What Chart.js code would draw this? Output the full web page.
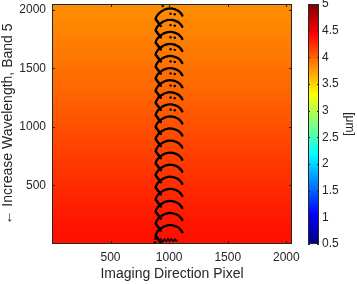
<!DOCTYPE html>
<html>
<head>
<meta charset="utf-8">
<script src="https://cdn.jsdelivr.net/npm/chart.js@4.4.0/dist/chart.umd.min.js"></script>
<style>
html,body{margin:0;padding:0;background:#fff}
#wrap{width:357px;height:284px}
</style>
</head>
<body>
<div id="wrap"><canvas id="c" width="357" height="284"></canvas></div>
<script>
// image rows (band 5), value in um, roughly constant along x
const rowCenters = [64,192,320,448,576,704,832,960,1088,1216,1344,1472,1600,1728,1856,1984];
const rowValues  = [4.37,4.34,4.30,4.26,4.22,4.18,4.14,4.10,4.06,4.02,3.98,3.95,3.91,3.88,3.85,3.82];

const xTicks = [500,1000,1500,2000];
const yTicks = [500,1000,1500,2000];
const cbTicks = [0.5,1,1.5,2,2.5,3,3.5,4,4.5,5];

// repeated marker pattern: one arc unit (x, row offset) and where it repeats
const arcUnit = [[885,0],[889,13],[895,25],[902,35],[910,45],[920,54],[930,62],[941,69],[952,76],[963,81],[975,85],[987,88],[1000,90],[1012,90],[1025,89],[1038,86],[1050,83],[1061,78],[1072,73],[1082,67],[1090,60],[1097,52],[1103,45],[1108,37],[1112,30],
                 [889,-6],[893,-12],[898,-18],[902,-24],[907,-30],[911,-36],[916,-42],[920,-48],[925,-54],[929,-60]];
const innerDots = [[1012,45],[1048,40]];
const unitRows = [72,175,278,381,484,587,690,793,896,999,1102,1205,1308,1411,1514,1617,1720,1823,1920];
const extraMarks = [[930,40],[945,25],[960,38],[975,28],[990,42],[1005,30],[1020,40],[1035,28],[1050,38],[1062,30],[880,15],[882,45],[945,2030]];

const ink = '#262626';
Chart.defaults.font.family = "'Liberation Sans', Arial, sans-serif";
Chart.defaults.color = ink;

function jet(t){
    const c = v => Math.round(255*Math.max(0, Math.min(1, v)));
    return 'rgb(' + c(Math.min(4*t-1.5, -4*t+4.5)) + ',' + c(Math.min(4*t-0.5, -4*t+3.5)) + ',' + c(Math.min(4*t+0.5, -4*t+2.5)) + ')';
}
const norm = v => (v - 0.5) / 4.5;

const marks = [];
unitRows.forEach(r => {
    arcUnit.forEach(p => marks.push({x:p[0], y:r+p[1]}));
    if(r > 1000) innerDots.forEach(p => marks.push({x:p[0], y:r+p[1]}));
});
extraMarks.forEach(p => marks.push({x:p[0], y:p[1]}));

const heatmap = {
    id:'heatmap',
    beforeDatasetsDraw(chart){
        const {ctx, scales:{x, y}} = chart;
        const p0 = y.getPixelForValue(rowCenters[0]);
        const pN = y.getPixelForValue(rowCenters[rowCenters.length-1]);
        const g = ctx.createLinearGradient(0, p0, 0, pN);
        rowCenters.forEach((r, i) => g.addColorStop((y.getPixelForValue(r) - p0) / (pN - p0), jet(norm(rowValues[i]))));
        const l = x.getPixelForValue(1), rgt = x.getPixelForValue(2048);
        const t = y.getPixelForValue(2048), b = y.getPixelForValue(1);
        ctx.save();
        ctx.fillStyle = g;
        ctx.fillRect(l, t, rgt - l, b - t);
        ctx.restore();
    },
    afterDatasetsDraw(chart){
        const {ctx, chartArea:a, scales:{x, y}} = chart;
        ctx.save();
        ctx.strokeStyle = ink;
        ctx.lineWidth = 1;
        ctx.strokeRect(a.left + 0.5, a.top + 0.5, a.right - a.left - 1, a.bottom - a.top - 1);
        ctx.beginPath();
        xTicks.forEach(v => {
            const px = Math.round(x.getPixelForValue(v)) + 0.5;
            ctx.moveTo(px, a.bottom); ctx.lineTo(px, a.bottom - 3);
            ctx.moveTo(px, a.top); ctx.lineTo(px, a.top + 3);
        });
        yTicks.forEach(v => {
            const py = Math.round(y.getPixelForValue(v)) + 0.5;
            ctx.moveTo(a.left, py); ctx.lineTo(a.left + 3, py);
            ctx.moveTo(a.right, py); ctx.lineTo(a.right - 3, py);
        });
        ctx.stroke();
        ctx.restore();
    },
    afterDraw(chart){
        const {ctx, chartArea:a, scales:{cb}} = chart;
        const x0 = a.right + 16, w = 11;
        const t = cb.getPixelForValue(5), b = cb.getPixelForValue(0.5);
        const g = ctx.createLinearGradient(0, b, 0, t);
        for(let i = 0; i <= 64; i++) g.addColorStop(i/64, jet(i/64));
        ctx.save();
        ctx.fillStyle = g;
        ctx.fillRect(x0, t, w, b - t);
        ctx.strokeStyle = ink;
        ctx.lineWidth = 1;
        ctx.strokeRect(x0 + 0.5, t + 0.5, w - 1, b - t - 1);
        ctx.beginPath();
        cbTicks.forEach(v => {
            const py = Math.round(cb.getPixelForValue(v)) + 0.5;
            ctx.moveTo(x0, py); ctx.lineTo(x0 + 2, py);
            ctx.moveTo(x0 + w, py); ctx.lineTo(x0 + w - 2, py);
        });
        ctx.stroke();
        ctx.restore();
    }
};

// small lineHeight keeps the axes from padding the plot area at the top
const tickFont = {size:12, lineHeight:0.6};
new Chart(document.getElementById('c'), {
    type:'scatter',
    data:{ datasets:[{ data:marks, pointRadius:1.2, pointHoverRadius:1.2, backgroundColor:'#000', borderWidth:0 }] },
    options:{
        responsive:false, animation:false,
        layout:{ autoPadding:false, padding:{top:4, left:0, right:0, bottom:0} },
        plugins:{ legend:{display:false}, tooltip:{enabled:false} },
        scales:{
            x:{ type:'linear', min:1, max:2048,
                afterBuildTicks: s => { s.ticks = xTicks.map(v => ({value:v})); },
                ticks:{ callback: v => String(v), font:{size:12}, color:ink, padding:6, maxRotation:0, autoSkip:false },
                grid:{display:false, drawTicks:false}, border:{display:false},
                title:{ display:true, text:'Imaging Direction Pixel', font:{size:14}, color:ink, padding:{top:0, bottom:1.5} },
                afterFit: s => { s.height = 40; } },
            y:{ type:'linear', min:1, max:2048,
                afterBuildTicks: s => { s.ticks = yTicks.map(v => ({value:v})); },
                ticks:{ callback: v => String(v), font:tickFont, color:ink, padding:0, autoSkip:false },
                grid:{display:false, drawTicks:true, tickLength:6}, border:{display:false},
                title:{ display:true, text:'\u2190 Increase Wavelength, Band 5', font:{size:14}, color:ink, padding:{top:0, bottom:0} },
                afterFit: s => { s.width = 52; } },
            cb:{ type:'linear', position:'right', min:0.5, max:5,
                afterBuildTicks: s => { s.ticks = cbTicks.map(v => ({value:v})); },
                ticks:{ callback: v => String(v), font:tickFont, color:ink, padding:0, autoSkip:false },
                grid:{display:false, drawTicks:true, tickLength:30}, border:{display:false},
                title:{ display:true, text:'[\u03bcm]', font:{size:12}, color:ink, padding:{top:0, bottom:0} },
                afterFit: s => { s.width = 65; } }
        }
    },
    plugins:[heatmap]
});
</script>
</body>
</html>
